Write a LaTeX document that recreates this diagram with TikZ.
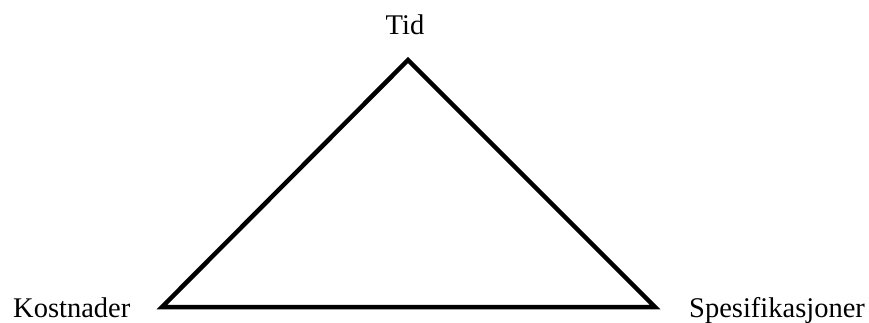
\documentclass[tikz,border=0pt]{standalone}
\usepackage{fontspec}
\setmainfont{Liberation Serif}
\begin{document}
\begin{tikzpicture}[x=1pt,y=-1pt,
  lbl/.style={inner sep=0pt,font=\fontsize{28.5}{30}\selectfont},
  side/.style={line width=4.5pt,line join=miter}]
\useasboundingbox (0,0) rectangle (869,323);
\coordinate (top) at (408,60);
\coordinate (bl) at (162,307);
\coordinate (br) at (655,307);
\draw[side] (top) -- (bl) -- (br) -- cycle;
\node[lbl,anchor=base] (tid) at (405,35) {Tid};
\node[lbl,anchor=base west] (kost) at (13,317) {Kostnader};
\node[lbl,anchor=base west] (spes) at (689,317) {Spesifikasjoner};
\end{tikzpicture}
\end{document}
